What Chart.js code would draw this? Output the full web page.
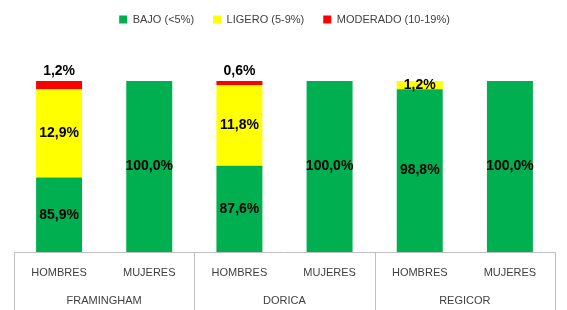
<!DOCTYPE html>
<html>
<head>
<meta charset="utf-8">
<script src="https://cdn.jsdelivr.net/npm/chart.js@4"></script>
<style>
  body { margin: 0; background: #fff; }
  #wrap { width: 567px; height: 310px; }
</style>
</head>
<body>
<div id="wrap"><canvas id="myChart" width="567" height="310"></canvas></div>
<script>
// data
var categories = ["HOMBRES", "MUJERES", "HOMBRES", "MUJERES", "HOMBRES", "MUJERES"];
var groups = ["FRAMINGHAM", "DORICA", "REGICOR"];
var bajo = [85.9, 100.0, 87.6, 100.0, 98.8, 100.0];
var ligero = [12.9, 0, 11.8, 0, 1.2, 0];
var moderado = [1.2, 0, 0.6, 0, 0, 0];
var yMin = 75;
var yMax = 100;

var FONT = "'Liberation Sans', Arial, sans-serif";

// labels inside the bars, the red one sits above the bar
const valueLabels = {
    id: "valueLabels",
    afterDatasetsDraw(chart) {
        const ctx = chart.ctx;
        const bottom = chart.chartArea.bottom;
        ctx.save();
        ctx.font = "bold 14px " + FONT;
        ctx.fillStyle = "#000";
        ctx.textAlign = "center";
        ctx.textBaseline = "middle";
        chart.data.datasets.forEach(function (ds, i) {
            const meta = chart.getDatasetMeta(i);
            meta.data.forEach(function (bar, j) {
                const v = ds.data[j];
                if (!v) return;
                const txt = v.toFixed(1).replace(".", ",") + "%";
                let y = (bar.y + Math.min(bar.base, bottom)) / 2;
                if (i === 2) y = bar.y - 10;
                ctx.fillText(txt, bar.x, y);
            });
        });
        ctx.restore();
    },
};

// two-level category axis under the bars
const groupAxis = {
    id: "groupAxis",
    afterDraw(chart) {
        const ctx = chart.ctx;
        const area = chart.chartArea;
        const x = chart.scales.x;
        const bottom = area.bottom;
        ctx.save();
        ctx.strokeStyle = "#BFBFBF";
        ctx.lineWidth = 1;
        ctx.beginPath();
        ctx.moveTo(area.left, bottom + 0.5);
        ctx.lineTo(area.right, bottom + 0.5);
        const edges = [area.left];
        for (let g = 1; g < groups.length; g++) {
            edges.push((x.getPixelForValue(g * 2 - 1) + x.getPixelForValue(g * 2)) / 2);
        }
        edges.push(area.right);
        edges.forEach(function (ex) {
            const px = Math.round(ex) + 0.5;
            ctx.moveTo(px, bottom);
            ctx.lineTo(px, bottom + 58);
        });
        ctx.stroke();

        ctx.fillStyle = "#404040";
        ctx.font = "11px " + FONT;
        ctx.textAlign = "center";
        ctx.textBaseline = "middle";
        categories.forEach(function (c, j) {
            ctx.fillText(c, x.getPixelForValue(j), bottom + 21);
        });
        groups.forEach(function (g, k) {
            ctx.fillText(g, (edges[k] + edges[k + 1]) / 2, bottom + 49);
        });
        ctx.restore();
    },
};

// leave room between legend and bars
const legendSpace = {
    id: "legendSpace",
    beforeInit(chart) {
        const fit = chart.legend.fit;
        chart.legend.fit = function () {
            fit.bind(chart.legend)();
            this.height = 86;
        };
    },
};

const config = {
    type: "bar",
    data: {
        labels: categories,
        datasets: [
            { label: "BAJO (<5%)", data: bajo, backgroundColor: "#00B050" },
            { label: "LIGERO (5-9%)", data: ligero, backgroundColor: "#FFFF00" },
            { label: "MODERADO (10-19%)", data: moderado, backgroundColor: "#FF0000" },
        ],
    },
    options: {
        responsive: false,
        animation: false,
        layout: { padding: { left: 14, right: 12, top: -5, bottom: 58 } },
        datasets: { bar: { categoryPercentage: 1, barPercentage: 0.51 } },
        scales: {
            x: { display: false, stacked: true },
            y: { display: false, stacked: true, min: yMin, max: yMax },
        },
        plugins: {
            legend: {
                position: "top",
                labels: {
                    boxWidth: 8,
                    boxHeight: 8,
                    color: "#404040",
                    font: { family: FONT, size: 11 },
                    padding: 19,
                },
            },
            tooltip: { enabled: false },
        },
    },
    plugins: [legendSpace, valueLabels, groupAxis],
};

const myChart = new Chart(document.getElementById("myChart"), config);
</script>
</body>
</html>
